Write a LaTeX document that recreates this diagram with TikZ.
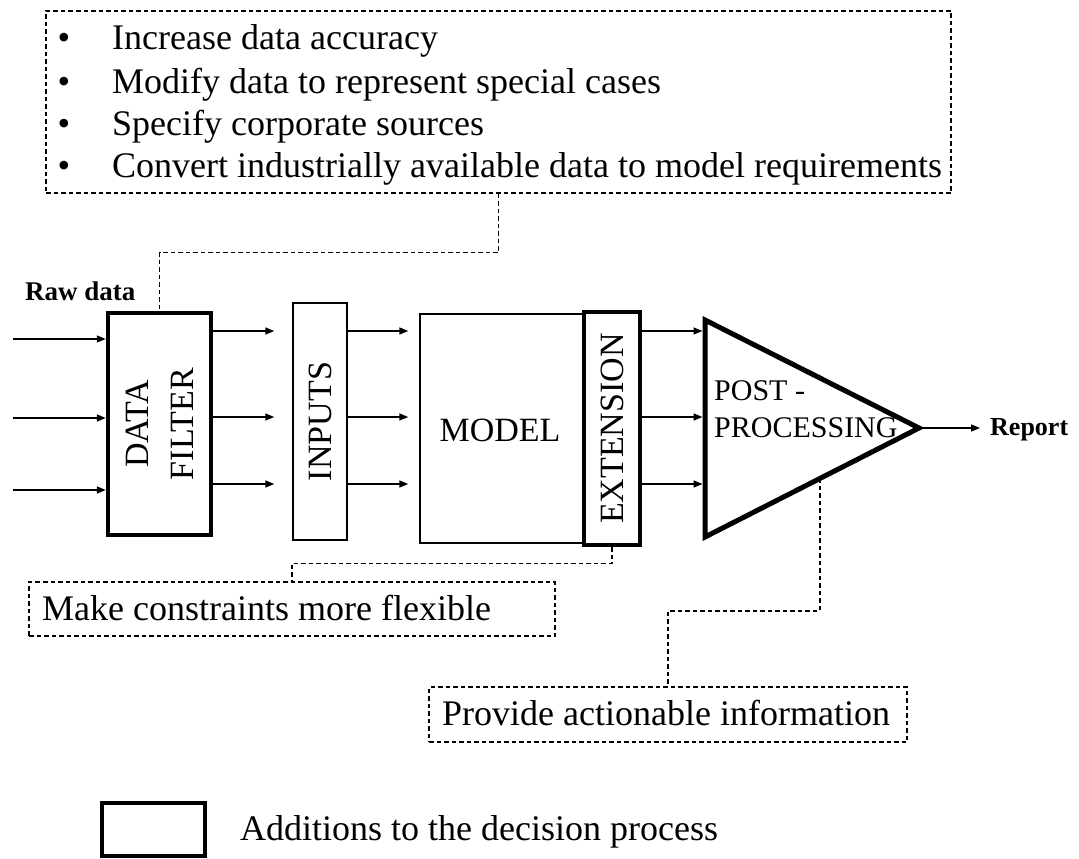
\documentclass[tikz,border=0pt]{standalone}
\usepackage{fontspec}
\setmainfont{Liberation Serif}
\usetikzlibrary{arrows.meta,calc}

\begin{document}
\begin{tikzpicture}[x=1pt,y=-1pt,
  thinbox/.style={draw, line width=1.4pt, inner sep=0pt},
  heavybox/.style={draw, line width=4.5pt, inner sep=0pt},
  note/.style={draw, dash pattern=on 4.5pt off 3pt, line width=1.2pt, inner sep=0pt},
  leader/.style={dash pattern=on 4.5pt off 3pt, line width=1.2pt},
  flow/.style={line width=1.5pt, -{Triangle[length=9pt,width=7pt]}},
  boxlabel/.style={font=\fontsize{34}{45}\selectfont, align=center, inner sep=0pt},
  notetext/.style={font=\fontsize{36}{42}\selectfont, anchor=base west, inner sep=0pt},
  tag/.style={font=\bfseries\fontsize{27}{32}\selectfont, anchor=base west, inner sep=0pt}
]
\useasboundingbox (0,0) rectangle (1079,859);

% goals of the data filter
\node[note, minimum width=905pt, minimum height=182pt] (goals) at (498.5,102) {};
\foreach \y/\t in {50/Increase data accuracy,
                   93/Modify data to represent special cases,
                   135/Specify corporate sources,
                   177/Convert industrially available data to model requirements}{
  \node[notetext, anchor=base] at (64,\y) {•};
  \node[notetext] at (112,\y) {\t};
}

% main chain
\node[tag] (raw) at (25,300) {Raw data};
\node[heavybox, minimum width=103pt, minimum height=222pt] (filter) at (159.5,424) {};
\node[boxlabel, rotate=90] at (filter.center) {DATA\\FILTER};

\node[thinbox, minimum width=54pt, minimum height=237pt] (inputs) at (320,421.5) {};
\node[boxlabel, rotate=90] at (inputs.center) {INPUTS};

\node[thinbox, minimum width=165pt, minimum height=229pt] (model) at (502.5,428.5) {};
\node[boxlabel] at (500,430) {MODEL};
\node[heavybox, fill=white, minimum width=56pt, minimum height=233pt] (ext) at (612,428.5) {};
\node[boxlabel, rotate=90] at (ext.center) {EXTENSION};

\coordinate (tA) at (705,320);
\coordinate (tB) at (705,537);
\coordinate (tC) at (919,428);
\draw[line width=5pt, line join=miter] (tA) -- (tC) -- (tB) -- cycle;
\node[anchor=base west, inner sep=0pt, font=\fontsize{30}{37}\selectfont] (pp1) at (714,400) {POST -};
\node[anchor=base west, inner sep=0pt, font=\fontsize{30}{37}\selectfont] (pp2) at (714,437) {PROCESSING};

\node[tag, font=\bfseries\fontsize{26}{31}\selectfont] (report) at (990,435) {Report};

% flows
\foreach \y [count=\i] in {339,418,490}{
  \coordinate (src\i) at (13,\y);
  \draw[flow] (src\i) -- (src\i -| filter.west);
}
\foreach \y in {331,417,484}{
  \draw[flow, shorten >=18pt] (filter.east |- 0,\y) -- (inputs.west |- 0,\y);
  \draw[flow, shorten >=11pt] (inputs.east |- 0,\y) -- (model.west |- 0,\y);
  \draw[flow, shorten >=2.5pt] (ext.east |- 0,\y) -- (tA |- 0,\y);
}
\draw[flow, shorten >=10pt] (tC) -- (tC -| report.west);

% annotations
\node[note, minimum width=526pt, minimum height=54pt] (make) at (292,609) {};
\node[notetext] at (42,620) {Make constraints more flexible};
\node[note, minimum width=478pt, minimum height=55pt] (provide) at (668,714.5) {};
\node[notetext] at (442,725) {Provide actionable information};

\draw[leader] (goals.south) -- ++(0,59) -| (filter.north);
\draw[leader] (ext.south) -- ++(0,16) -| (make.north);
\path (tB) -- (tC) coordinate[pos=0.537] (trilow);
\draw[leader] (trilow) -- (trilow |- 0,611) -| (provide.north);

% key
\node[heavybox, minimum width=103pt, minimum height=53pt] (key) at (153.5,829.5) {};
\node[notetext] at (240,840) {Additions to the decision process};
\end{tikzpicture}
\end{document}
